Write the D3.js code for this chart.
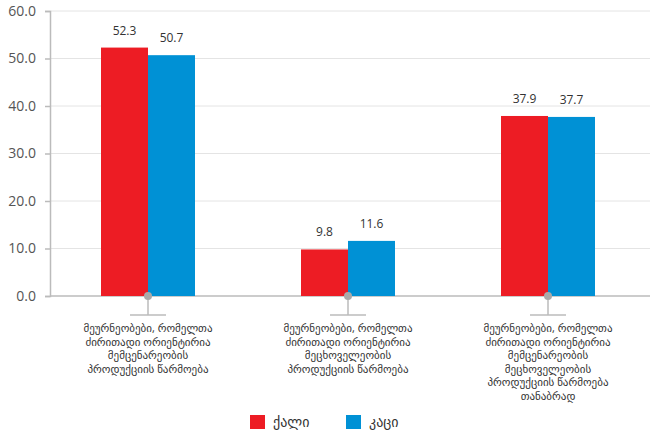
<!DOCTYPE html>
<html><head><meta charset="utf-8">
<script src="https://cdn.jsdelivr.net/npm/d3@7"></script>
<style>
body{margin:0;background:#fff;}
text{font-family:"Open Sans","DejaVu Sans",sans-serif;}
</style></head>
<body><svg id="c" width="651" height="432"></svg>
<script>
const categories = [
  ["მეურნეობები, რომელთა","ძირითადი ორიენტირია","მემცენარეობის","პროდუქციის წარმოება"],
  ["მეურნეობები, რომელთა","ძირითადი ორიენტირია","მეცხოველეობის","პროდუქციის წარმოება"],
  ["მეურნეობები, რომელთა","ძირითადი ორიენტირია","მემცენარეობის","მეცხოველეობის","პროდუქციის წარმოება","თანაბრად"]
];
const seriesNames = ["ქალი","კაცი"];
const women = [52.3, 9.8, 37.9];
const men = [50.7, 11.6, 37.7];
const yTicks = [0,10,20,30,40,50,60];
const colors = ["#ed1c24","#0091d5"];

const svg = d3.select("#c");
const x = d3.scaleBand().domain(d3.range(categories.length)).range([48,648]);
const y = d3.scaleLinear().domain([0,60]).range([296,11]);
const xs = d3.scaleBand().domain([0,1]).range([0,94]);

// gridlines
svg.append("g").selectAll("line").data(yTicks.filter(d=>d>0)).join("line")
  .attr("x1",50).attr("x2",650).attr("y1",d=>y(d)).attr("y2",d=>y(d))
  .attr("stroke","#e4e4e4").attr("stroke-width",1);

// y axis
const ya = svg.append("g").attr("transform","translate(50,0)")
  .call(d3.axisLeft(y).tickValues(yTicks).tickFormat(d3.format(".1f")).tickSize(5).tickPadding(9));
ya.select(".domain").attr("stroke","#bbb").attr("stroke-width",1.5);
ya.selectAll(".tick line").attr("stroke","#bbb").attr("stroke-width",1.5);
ya.selectAll(".tick text").attr("font-size",14).attr("fill","#555")
  .style("font-family","'Open Sans',sans-serif");

// baseline
svg.append("line").attr("x1",50).attr("x2",650).attr("y1",y(0)).attr("y2",y(0))
  .attr("stroke","#bbb").attr("stroke-width",1.5);

const series = [women, men];
series.forEach((vals,si)=>{
  const g = svg.append("g");
  g.selectAll("rect").data(vals).join("rect")
    .attr("x",(d,i)=>x(i)+x.bandwidth()/2-47+xs(si))
    .attr("width",xs.bandwidth())
    .attr("y",d=>y(d)).attr("height",d=>y(0)-y(d))
    .attr("fill",colors[si]);
  g.selectAll("text").data(vals).join("text")
    .attr("x",(d,i)=>x(i)+x.bandwidth()/2-47+xs(si)+xs.bandwidth()/2)
    .attr("y",d=>y(d)-13)
    .attr("text-anchor","middle").attr("font-size",12).attr("fill","#333")
    .text(d=>d3.format(".1f")(d));
});

// category markers
const cg = svg.append("g").selectAll("g").data(categories).join("g")
  .attr("transform",(d,i)=>`translate(${x(i)+x.bandwidth()/2},0)`);
cg.append("line").attr("x1",0).attr("x2",0).attr("y1",y(0)).attr("y2",315)
  .attr("stroke","#bbb").attr("stroke-width",1.5);
cg.append("line").attr("x1",-18).attr("x2",18).attr("y1",315).attr("y2",315)
  .attr("stroke","#bbb").attr("stroke-width",1.5);
cg.append("circle").attr("cx",0).attr("cy",y(0)).attr("r",4).attr("fill","#aaa");
cg.append("text").attr("text-anchor","middle").attr("font-size",11).attr("fill","#333")
  .selectAll("tspan").data(d=>d).join("tspan")
  .attr("x",0).attr("y",(d,i)=>332+i*13.5).text(d=>d);

// legend
const lg = svg.append("g").selectAll("g").data(seriesNames).join("g")
  .attr("transform",(d,i)=>`translate(${250+i*96},415)`);
lg.append("rect").attr("width",15).attr("height",14).attr("fill",(d,i)=>colors[i]);
lg.append("text").attr("x",23).attr("y",12).attr("font-size",14).attr("fill","#333").text(d=>d);
</script></body></html>
